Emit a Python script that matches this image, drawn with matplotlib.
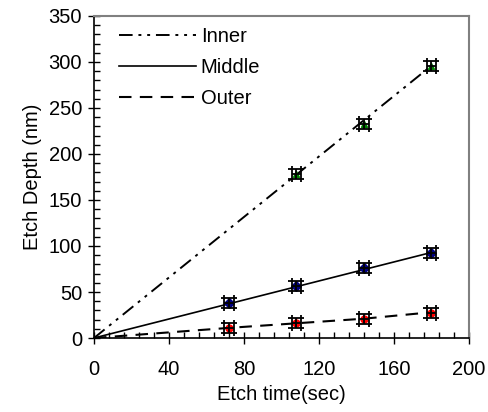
import matplotlib
matplotlib.use("Agg")
import matplotlib.pyplot as plt
from matplotlib.ticker import MultipleLocator

plt.rcParams['font.family'] = ['Liberation Sans', 'DejaVu Sans']

# Data
inner_t = [108, 144, 180]
inner_d = [178, 233, 296]
middle_t = [72, 108, 144, 180]
middle_d = [38, 57, 76, 92]
outer_t = [72, 108, 144, 180]
outer_d = [11, 16, 21, 27]

# fitted lines (through origin)
line_t = [0, 180]
inner_line = [0, 296]
middle_line = [0, 93]
outer_line_t = [0, 72, 108, 144, 180]
outer_line = [0, 11, 16, 21, 28]

t_err = 2.6
d_err = 5.5

FS = 14.5

fig = plt.figure(figsize=(4.88, 4.12), dpi=100)
ax = fig.add_axes([0.1926, 0.1796, 0.7684, 0.7816])

ax.plot(line_t, inner_line, color='black', lw=1.4, dashes=[7, 3, 1.5, 3, 1.5, 3], label='Inner')
ax.plot(line_t, middle_line, color='black', lw=1.2, ls='-', label='Middle')
ax.plot(outer_line_t, outer_line, color='black', lw=1.5, dashes=[6, 4], label='Outer')

for t, d, c, m in [(inner_t, inner_d, 'green', '^'),
                   (middle_t, middle_d, 'navy', 'D'),
                   (outer_t, outer_d, 'red', 'o')]:
    ax.plot(t, d, ls='none', marker=m, color=c, ms=5, zorder=3)
    ax.errorbar(t, d, xerr=t_err, yerr=d_err, fmt='none', ecolor='black',
                elinewidth=1.3, capsize=5.5, capthick=1.3, zorder=4)

ax.set_xlim(0, 200)
ax.set_ylim(0, 350)
ax.xaxis.set_major_locator(MultipleLocator(40))
ax.xaxis.set_minor_locator(MultipleLocator(8))
ax.yaxis.set_major_locator(MultipleLocator(50))
ax.yaxis.set_minor_locator(MultipleLocator(10))
ax.tick_params(which='major', direction='inout', length=9, width=1, labelsize=FS)
ax.tick_params(axis='x', which='major', pad=11)
ax.tick_params(axis='y', which='major', pad=4)
ax.tick_params(which='minor', direction='in', length=4, width=1)
ax.tick_params(top=False, right=False)

for s in ['top', 'right']:
    ax.spines[s].set_color('#808080')
    ax.spines[s].set_linewidth(1.5)
for s in ['left', 'bottom']:
    ax.spines[s].set_color('black')
    ax.spines[s].set_linewidth(1.2)

ax.set_xlabel('Etch time(sec)', fontsize=FS, labelpad=5)
ax.set_ylabel('Etch Depth (nm)', fontsize=FS, labelpad=5)

leg = ax.legend(loc='upper left', frameon=False, fontsize=FS, handlelength=3.8,
                handletextpad=0.25, labelspacing=0.6, borderaxespad=0.0,
                borderpad=0.0, bbox_to_anchor=(0.067, 0.965))

fig.savefig('out.png', dpi=100)
